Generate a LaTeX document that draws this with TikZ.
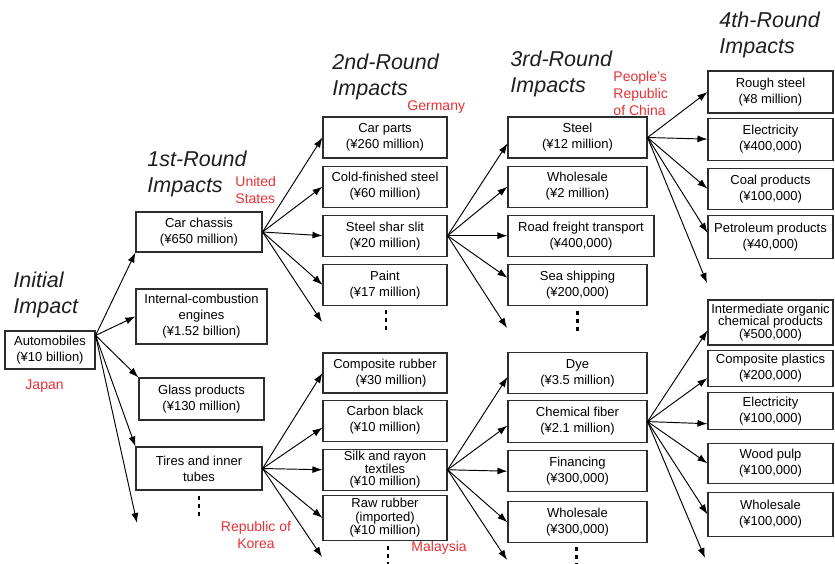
\documentclass[tikz,border=0pt]{standalone}
\usepackage{fontspec}
\setmainfont{Liberation Sans}
\usetikzlibrary{arrows.meta,positioning}
\definecolor{cntryred}{RGB}{232,48,52}
\definecolor{boxline}{RGB}{45,45,45}

\begin{document}
\begin{tikzpicture}[x=1pt,y=-1pt,->,>={Latex[length=10pt,width=7pt]},line width=0.95pt,node distance=7pt]
    \tikzset{
        every node/.style={inner sep=2pt},
        impact/.style={draw=boxline,line width=1.1pt,align=center,minimum height=41pt,font=\fontsize{13}{16}\selectfont},
        impact3/.style={font=\fontsize{13}{12.5}\selectfont},
        second/.style={impact,minimum width=124pt},
        third/.style={impact,minimum width=139pt},
        fourth/.style={impact,minimum width=125pt},
        roundtitle/.style={inner sep=0pt,align=left,text=black!88,font=\fontsize{21.5}{26}\selectfont\itshape},
        country/.style={inner sep=0pt,align=left,text=cntryred,font=\fontsize{14}{17}\selectfont},
        moredots/.style={-,line width=2.4pt,dash pattern=on 4pt off 4pt}
    }
    \useasboundingbox (0,0) rectangle (835,563);

    % round titles
    \node[roundtitle,anchor=west] (t0) at (13,294.5) {Initial\\Impact};
    \node[roundtitle,anchor=west] (t1) at (147,173.5) {1st-Round\\Impacts};
    \node[roundtitle,anchor=west] (t2) at (332,77) {2nd-Round\\Impacts};
    \node[roundtitle,anchor=west] (t3) at (510,73.5) {3rd-Round\\Impacts};
    \node[roundtitle,anchor=west] (t4) at (719,34.5) {4th-Round\\Impacts};

    % countries
    \node[country,anchor=west] (jp) at (25,386) {Japan};
    \node[country,anchor=west] (us) at (235,190) {United\\States};
    \node[country,anchor=west] (de) at (407,107) {Germany};
    \node[country,anchor=west] (cn) at (613,93.5) {People's\\Republic\\of China};
    \node[country,align=center] (kr) at (256,535) {Republic of\\Korea};
    \node[country,anchor=west] (my) at (411,548) {Malaysia};

    % initial impact and 1st round
    \node[impact,minimum width=90pt,minimum height=38pt] (auto) at (50,350) {Automobiles\\(¥10 billion)};
    \node[impact,minimum width=126pt,minimum height=40pt] (chassis) at (199,232) {Car chassis\\(¥650 million)};
    \node[impact,minimum width=131pt,minimum height=55pt] (engine) at (201.5,316.5) {Internal-combustion\\engines\\(¥1.52 billion)};
    \node[impact,minimum width=125pt,minimum height=42pt] (glass) at (201.5,399) {Glass products\\(¥130 million)};
    \node[impact,minimum width=126pt,minimum height=43pt] (tires) at (199,468.5) {Tires and inner\\tubes};

    % 2nd round
    \node[second] (carparts) at (385,137.5) {Car parts\\(¥260 million)};
    \node[second,below=of carparts] (coldsteel) {Cold-finished steel\\(¥60 million)};
    \node[second,below=of coldsteel] (slit) {Steel shar slit\\(¥20 million)};
    \node[second,below=of slit] (paint) {Paint\\(¥17 million)};
    \node[second,minimum height=40pt] (comprub) at (385,373) {Composite rubber\\\hspace*{12pt}(¥30 million)};
    \node[second,below=6pt of comprub] (carbon) {Carbon black\\(¥10 million)};
    \node[second,impact3,below=7pt of carbon] (silk) {Silk and rayon\\textiles\\(¥10 million)};
    \node[second,minimum height=45pt,below=4pt of silk,font=\fontsize{13}{13.5}\selectfont] (rawrub) {Raw rubber\\(imported)\\(¥10 million)};

    % 3rd round
    \node[third] (steel) at (577.5,137.5) {Steel\\(¥12 million)};
    \node[third,below=of steel] (wsale) {Wholesale\\(¥2 million)};
    \node[third,minimum width=146pt,below=of wsale,xshift=3.5pt] (road) {Road freight transport\\(¥400,000)};
    \node[third,below=of road,xshift=-3.5pt] (sea) {Sea shipping\\(¥200,000)};
    \node[third] (dye) at (577.5,373) {Dye\\(¥3.5 million)};
    \node[third,minimum height=42pt,below=6pt of dye] (chemfib) {Chemical fiber\\(¥2.1 million)};
    \node[third,below=7pt of chemfib] (finance) {Financing\\(¥300,000)};
    \node[third,below=9pt of finance] (wsale3) {Wholesale\\(¥300,000)};

    % 4th round
    \node[fourth,minimum height=42pt] (rough) at (770.5,92) {Rough steel\\(¥8 million)};
    \node[fourth,minimum height=42pt,below=4pt of rough] (elec) {Electricity\\(¥400,000)};
    \node[fourth,below=7pt of elec] (coal) {Coal products\\(¥100,000)};
    \node[fourth,minimum height=43pt,below=5pt of coal] (petro) {Petroleum products\\(¥40,000)};
    \node[fourth,impact3,minimum height=45pt] (organic) at (770.5,322.5) {Intermediate organic\\chemical products\\(¥500,000)};
    \node[fourth,minimum height=36pt,below=4pt of organic] (plastics) {Composite plastics\\(¥200,000)};
    \node[fourth,minimum height=37pt,below=5pt of plastics] (elec2) {Electricity\\(¥100,000)};
    \node[fourth,minimum height=40pt,below=13pt of elec2] (pulp) {Wood pulp\\(¥100,000)};
    \node[fourth,minimum height=44pt,below=8pt of pulp] (wsale4) {Wholesale\\(¥100,000)};

    % open ends
    \coordinate (free1) at (137,523);
    \coordinate (free2) at (322,322);
    \coordinate (free3) at (507,328);
    \coordinate (free4) at (707,283);
    \coordinate (free5) at (322,557);
    \coordinate (free6) at (507,560);
    \coordinate (free7) at (705,558);

    \path
        ([yshift=-5pt]auto.north east) edge (chassis.south west)
                    edge (engine.west)
                    edge (glass.north west)
                    edge (tires.north west)
                    edge (free1)
        (chassis.east) edge (carparts.west)
                    edge (coldsteel.west)
                    edge (slit.west)
                    edge (paint.west)
                    edge (free2)
        (slit.east) edge ([yshift=-6pt]steel.west)
                    edge (wsale.west)
                    edge (road.west)
                    edge ([yshift=7pt]sea.west)
                    edge (free3)
        (steel.east) edge (rough.west)
                    edge (elec.west)
                    edge (coal.west)
                    edge ([yshift=4pt]petro.west)
                    edge (free4)
        (tires.east) edge (comprub.west)
                    edge ([yshift=-7pt]carbon.west)
                    edge (silk.west)
                    edge (rawrub.west)
                    edge (free5)
        (silk.east) edge ([yshift=-4pt]dye.west)
                    edge ([yshift=-4pt]chemfib.west)
                    edge (finance.west)
                    edge (wsale3.west)
                    edge (free6)
        (chemfib.east) edge ([yshift=-8pt]organic.west)
                    edge ([yshift=-10pt]plastics.west)
                    edge ([yshift=-13pt]elec2.west)
                    edge (pulp.west)
                    edge (wsale4.west)
                    edge (free7);

    % more items
    \draw[moredots] ([yshift=-5pt]tires.south) -- ++(0,20);
    \draw[moredots] ([xshift=1pt,yshift=-4pt]paint.south) -- ++(0,20);
    \draw[moredots] ([yshift=-5pt]sea.south) -- ++(0,20);
    \draw[moredots] ([xshift=3pt,yshift=-5pt]rawrub.south) -- ++(0,21);
    \draw[moredots] ([xshift=-1pt,yshift=-4pt]wsale3.south) -- ++(0,23);
\end{tikzpicture}
\end{document}
